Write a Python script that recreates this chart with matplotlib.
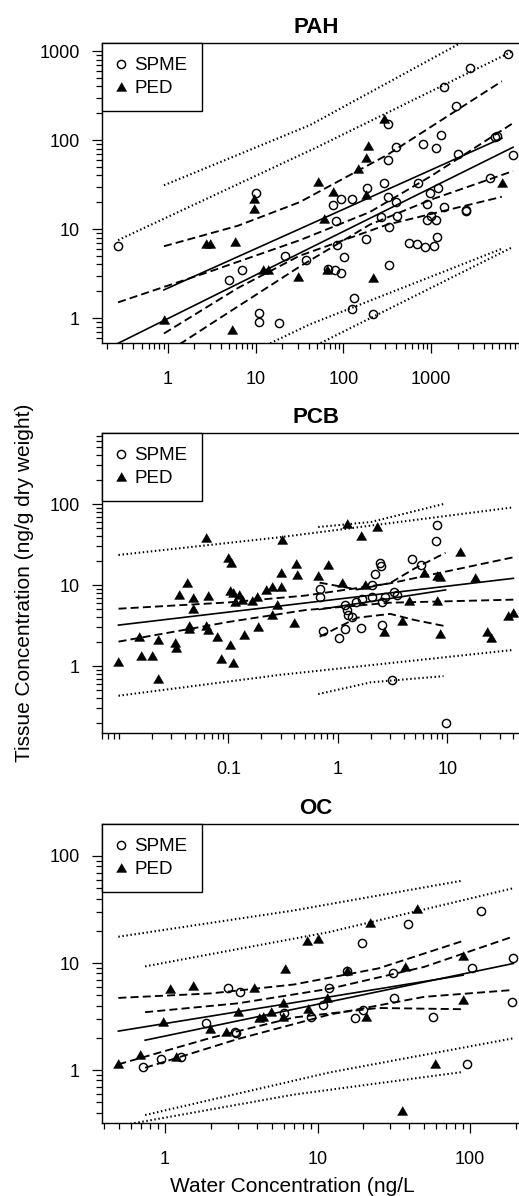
import numpy as np
import matplotlib
matplotlib.use('Agg')
import matplotlib.pyplot as plt
from matplotlib.ticker import FixedLocator, FixedFormatter, LogLocator, NullFormatter

plt.rcParams['font.family'] = ['Liberation Sans', 'DejaVu Sans']

# ---------------- PAH ----------------
pah_spme_x = [0.27, 10, 21.8, 37.5, 7.0, 5.0, 11, 11, 18.3,
              7600, 2780, 1390, 1900, 325, 401, 1300, 815, 1140, 325, 2010, 5300, 5600, 8600,
              186, 288, 715, 4700, 124, 93, 77, 325, 395, 980, 1190, 890, 1390, 2500, 2520,
              83, 269, 405, 334, 890, 990, 1140, 181, 84, 102, 565, 697, 851, 1087, 1160,
              334, 66, 80, 93, 131, 126, 219]
pah_spme_y = [6.5, 25.6, 5.0, 4.5, 3.5, 2.7, 1.15, 0.91, 0.89,
              925, 640, 391, 241, 151, 84, 114, 90, 81, 60, 69, 108, 111, 68,
              28.6, 33, 33, 37, 21.6, 21.6, 18.6, 23, 20.3, 25.6, 28.6, 19.1, 17.5, 16.3, 16.0,
              12.4, 13.5, 14, 10.6, 12.6, 14, 12.6, 7.7, 6.6, 4.9, 7.0, 6.8, 6.2, 6.4, 8.1,
              3.9, 3.6, 3.5, 3.2, 1.7, 1.25, 1.1]
pah_ped_x = [9.6, 9.5, 2.7, 3.0, 5.8, 12.2, 13.9, 30.4, 0.9, 5.3,
             290, 189, 182, 148, 51, 76, 181, 6380, 60, 65, 219]
pah_ped_y = [21.6, 17, 6.7, 6.7, 7.2, 3.5, 3.5, 2.9, 0.95, 0.73,
             172, 86, 62, 47, 34, 26, 24, 33, 13, 3.5, 2.8]

pah_spme_fit_x = [0.27, 8600]
pah_spme_fit_y = [0.52, 83]
pah_spme_ci_x = [0.27, 3.2, 32, 200, 1000, 8600]
pah_spme_ci_hi = [1.5, 3.4, 7.5, 15.5, 39.4, 155]
pah_spme_ci_lo = [0.18, 0.88, 3.8, 11.2, 21.4, 44.8]
pah_spme_pi_x = [0.27, 50, 8600]
pah_spme_pi_hi = [7.5, 83, 1000]
pah_spme_pi_lo = [0.036, 0.5, 6.3]

pah_ped_fit_x = [0.9, 6400]
pah_ped_fit_y = [2.07, 105]
pah_ped_ci_x = [0.9, 6.3, 31.6, 316, 6400]
pah_ped_ci_hi = [6.4, 10.9, 20, 68, 457]
pah_ped_ci_lo = [0.67, 2.18, 5.0, 11.2, 23]
pah_ped_pi_x = [0.9, 41.5, 6400]
pah_ped_pi_hi = [31, 147, 2200]
pah_ped_pi_lo = [0.14, 0.85, 6.0]

# ---------------- PCB ----------------
pcb_spme_x = [8.1, 7.85, 4.7, 5.7, 2.42, 2.47, 2.18, 2.03, 0.685, 0.685, 1.16, 1.2, 1.24, 1.33,
              1.45, 1.67, 2.03, 2.54, 2.69, 3.27, 3.44, 0.73, 1.03, 1.17, 1.64, 2.54, 3.13, 9.6]
pcb_spme_y = [55, 35.2, 20.8, 17.7, 18.5, 17.2, 13.7, 10, 8.85, 7.2, 5.66, 4.9, 4.27, 4.06,
              6.2, 6.65, 7.05, 6.2, 7.05, 8.3, 7.5, 2.7, 2.2, 2.84, 2.97, 3.2, 0.67, 0.2]
pcb_ped_x = [0.062, 0.306, 0.0995, 0.105, 0.41, 0.42, 0.30, 0.0415, 0.0353, 0.047, 0.0646, 0.047,
             0.103, 0.109, 0.126, 0.132, 0.115, 0.163, 0.181, 0.219, 0.251, 0.30, 0.275, 0.248,
             0.40, 0.044, 0.044, 0.063, 0.065, 0.078, 0.103, 0.139, 0.187, 0.0153, 0.0226,
             0.0325, 0.033, 0.0159, 0.0201, 0.00986, 0.0229, 0.085, 0.109,
             1.2, 2.29, 1.64, 0.805, 0.66, 1.08, 1.76, 13, 6.1, 8.0, 8.5, 17.8, 4.45, 8.1,
             3.82, 2.63, 8.5, 22.8, 24.8, 35.5, 39.9]
pcb_ped_y = [37.7, 36, 21.4, 18.5, 18.2, 13.3, 13.9, 10.5, 7.5, 7.0, 7.4, 5.0,
             8.5, 7.9, 7.5, 6.5, 6.2, 6.3, 7.2, 8.7, 9.5, 9.4, 5.7, 4.3,
             3.4, 3.1, 2.9, 3.1, 2.8, 2.3, 1.8, 2.4, 3.0, 2.26, 2.1,
             1.9, 1.65, 1.33, 1.33, 1.11, 0.70, 1.21, 1.1,
             56, 51.5, 40, 17.7, 12.9, 10.5, 10, 25.8, 13.9, 13, 12.7, 12.1, 6.3, 6.3,
             3.6, 2.6, 2.46, 2.6, 2.2, 4.2, 4.47]

pcb_spme_fit_x = [0.68, 9.6]
pcb_spme_fit_y = [5.0, 8.7]
pcb_spme_ci_x = [0.68, 1.5, 3, 5, 9.6]
pcb_spme_ci_hi = [10.7, 8.8, 10.6, 16, 25]
pcb_spme_ci_lo = [2.3, 3.95, 4.4, 3.7, 3.1]
pcb_spme_pi_x = [0.66, 2, 9.2]
pcb_spme_pi_hi = [52, 60, 100]
pcb_spme_pi_lo = [0.45, 0.63, 0.75]

pcb_ped_fit_x = [0.0099, 40]
pcb_ped_fit_y = [3.2, 12.1]
pcb_ped_ci_x = [0.0099, 0.1, 0.5, 3, 40]
pcb_ped_ci_hi = [5.1, 6.1, 7.4, 10.5, 22]
pcb_ped_ci_lo = [2.0, 3.5, 4.9, 6.05, 6.6]
pcb_ped_pi_x = [0.0099, 0.3, 40]
pcb_ped_pi_hi = [23.5, 39, 91]
pcb_ped_pi_lo = [0.43, 0.78, 1.58]

# ---------------- OC ----------------
oc_spme_x = [2.6, 3.1, 1.86, 2.88, 2.92, 6.06, 0.72, 0.94, 1.27,
             117, 39.4, 19.5, 192, 103.5, 31.4, 15.5, 11.8, 10.9, 9.06, 31.9, 189, 20, 17.6,
             57.4, 95]
oc_spme_y = [5.8, 5.4, 2.77, 2.28, 2.2, 3.43, 1.07, 1.26, 1.31,
             30.8, 23.1, 15.5, 11.2, 8.9, 8.0, 8.5, 5.8, 4.05, 3.1, 4.7, 4.35, 3.6, 3.04,
             3.1, 1.13]
oc_ped_x = [8.5, 10.1, 6.1, 1.07, 1.52, 3.83, 0.975, 3.03, 1.97, 2.51, 4.1, 4.4, 4.93, 5.97,
            5.9, 0.494, 0.69, 1.18, 44.7, 22.1, 90, 37.5, 15.5, 11.5, 8.6, 90, 20.8, 58.9, 35.6]
oc_ped_y = [16.2, 16.6, 8.7, 5.7, 6.1, 5.9, 2.83, 3.5, 2.4, 2.28, 3.04, 3.15, 3.5, 4.2,
            3.15, 1.14, 1.38, 1.31, 31.8, 23.5, 11.6, 9.2, 8.5, 4.7, 3.7, 4.5, 3.15, 1.15, 0.41]

oc_spme_fit_x = [0.74, 192]
oc_spme_fit_y = [1.9, 9.9]
oc_spme_ci_x = [0.74, 3, 12, 50, 192]
oc_spme_ci_hi = [3.47, 4.2, 5.75, 9.2, 17.7]
oc_spme_ci_lo = [1.05, 1.95, 3.3, 4.83, 5.6]
oc_spme_pi_x = [0.74, 12, 192]
oc_spme_pi_hi = [9.3, 19.5, 50]
oc_spme_pi_lo = [0.38, 0.95, 1.98]

oc_ped_fit_x = [0.494, 90]
oc_ped_fit_y = [2.31, 7.7]
oc_ped_ci_x = [0.494, 2, 7, 25, 90]
oc_ped_ci_hi = [4.72, 5.2, 6.3, 8.9, 16.1]
oc_ped_ci_lo = [1.13, 2.0, 3.1, 3.8, 3.7]
oc_ped_pi_x = [0.494, 7, 90]
oc_ped_pi_hi = [17.6, 31, 59]
oc_ped_pi_lo = [0.30, 0.59, 0.96]

# tick labels
pah_xticks, pah_xlabels = [1, 10, 100, 1000], ['1', '10', '100', '1000']
pah_yticks, pah_ylabels = [1, 10, 100, 1000], ['1', '10', '100', '1000']
pcb_xticks, pcb_xlabels = [0.1, 1, 10], ['0.1', '1', '10']
pcb_yticks, pcb_ylabels = [1, 10, 100], ['1', '10', '100']
oc_xticks, oc_xlabels = [1, 10, 100], ['1', '10', '100']
oc_yticks, oc_ylabels = [1, 10, 100], ['1', '10', '100']

W, H = 519, 1196
fig = plt.figure(figsize=(W / 100, H / 100), dpi=100)


def px_rect(l, t, r, b):
    return [l / W, 1 - b / H, (r - l) / W, (b - t) / H]


tri = [(-1, -0.75), (1, -0.75), (0, 0.98)]
dash = (0, (4.3, 2.2))
dot = (0, (0.7, 1.25))


def panel(rect, title, xlim, ylim, xt, xl, yt, yl, spme, ped, s_lines, p_lines):
    ax = fig.add_axes(px_rect(*rect))
    ax.set_xscale('log')
    ax.set_yscale('log')
    for fx, fy, cx, chi, clo, px, phi, plo in (s_lines, p_lines):
        ax.plot(fx, fy, color='k', lw=1.2)
        ax.plot(cx, chi, color='k', lw=1.35, ls=dash)
        ax.plot(cx, clo, color='k', lw=1.35, ls=dash)
        ax.plot(px, phi, color='k', lw=1.5, ls=dot)
        ax.plot(px, plo, color='k', lw=1.5, ls=dot)
    ax.plot(spme[0], spme[1], ls='none', marker='o', ms=5.9, mfc='none', mec='k',
            mew=1.05, label='SPME')
    ax.plot(ped[0], ped[1], ls='none', marker=tri, ms=7.2, mfc='k', mec='k',
            mew=0.5, label='PED')
    ax.set_xlim(*xlim)
    ax.set_ylim(*ylim)
    ax.xaxis.set_major_locator(FixedLocator(xt))
    ax.xaxis.set_major_formatter(FixedFormatter(xl))
    ax.yaxis.set_major_locator(FixedLocator(yt))
    ax.yaxis.set_major_formatter(FixedFormatter(yl))
    for axis in (ax.xaxis, ax.yaxis):
        axis.set_minor_locator(LogLocator(base=10, subs=np.arange(1, 10), numticks=100))
        axis.set_minor_formatter(NullFormatter())
    ax.tick_params(which='major', length=7, width=0.9, labelsize=13, direction='out')
    ax.tick_params(which='minor', length=4.5, width=0.9, direction='out')
    ax.tick_params(axis='x', which='major', pad=13.5)
    ax.tick_params(axis='y', which='major', pad=9)
    ax.spines['right'].set_visible(False)
    for s in ('top', 'left', 'bottom'):
        ax.spines[s].set_linewidth(1.0)
    ax.set_title(title, fontsize=16, fontweight='bold', pad=7.2)
    leg = ax.legend(loc='upper left', bbox_to_anchor=(0, 1), borderaxespad=0,
                    fancybox=False, edgecolor='black', framealpha=1, fontsize=13.5,
                    borderpad=0.75, labelspacing=0.32, handlelength=0.53,
                    handletextpad=0.45)
    leg.get_frame().set_linewidth(1.0)
    return ax


panel((102, 43, 530, 343), 'PAH', (0.177, 13400), (0.524, 1230),
      pah_xticks, pah_xlabels, pah_yticks, pah_ylabels,
      (pah_spme_x, pah_spme_y), (pah_ped_x, pah_ped_y),
      (pah_spme_fit_x, pah_spme_fit_y, pah_spme_ci_x, pah_spme_ci_hi, pah_spme_ci_lo,
       pah_spme_pi_x, pah_spme_pi_hi, pah_spme_pi_lo),
      (pah_ped_fit_x, pah_ped_fit_y, pah_ped_ci_x, pah_ped_ci_hi, pah_ped_ci_lo,
       pah_ped_pi_x, pah_ped_pi_hi, pah_ped_pi_lo))

panel((102, 433, 530, 733), 'PCB', (0.0070, 56.7), (0.149, 753),
      pcb_xticks, pcb_xlabels, pcb_yticks, pcb_ylabels,
      (pcb_spme_x, pcb_spme_y), (pcb_ped_x, pcb_ped_y),
      (pcb_spme_fit_x, pcb_spme_fit_y, pcb_spme_ci_x, pcb_spme_ci_hi, pcb_spme_ci_lo,
       pcb_spme_pi_x, pcb_spme_pi_hi, pcb_spme_pi_lo),
      (pcb_ped_fit_x, pcb_ped_fit_y, pcb_ped_ci_x, pcb_ped_ci_hi, pcb_ped_ci_lo,
       pcb_ped_pi_x, pcb_ped_pi_hi, pcb_ped_pi_lo))

panel((102, 824, 530, 1123), 'OC', (0.386, 247), (0.32, 199),
      oc_xticks, oc_xlabels, oc_yticks, oc_ylabels,
      (oc_spme_x, oc_spme_y), (oc_ped_x, oc_ped_y),
      (oc_spme_fit_x, oc_spme_fit_y, oc_spme_ci_x, oc_spme_ci_hi, oc_spme_ci_lo,
       oc_spme_pi_x, oc_spme_pi_hi, oc_spme_pi_lo),
      (oc_ped_fit_x, oc_ped_fit_y, oc_ped_ci_x, oc_ped_ci_hi, oc_ped_ci_lo,
       oc_ped_pi_x, oc_ped_pi_hi, oc_ped_pi_lo))

fig.text(25 / W, 1 - 583 / H, 'Tissue Concentration (ng/g dry weight)', rotation=90,
         ha='center', va='center', fontsize=15)
fig.text(292 / W, 1 - 1192 / H, 'Water Concentration (ng/L', ha='center', va='baseline',
         fontsize=15)

fig.savefig('out.png', dpi=100)
